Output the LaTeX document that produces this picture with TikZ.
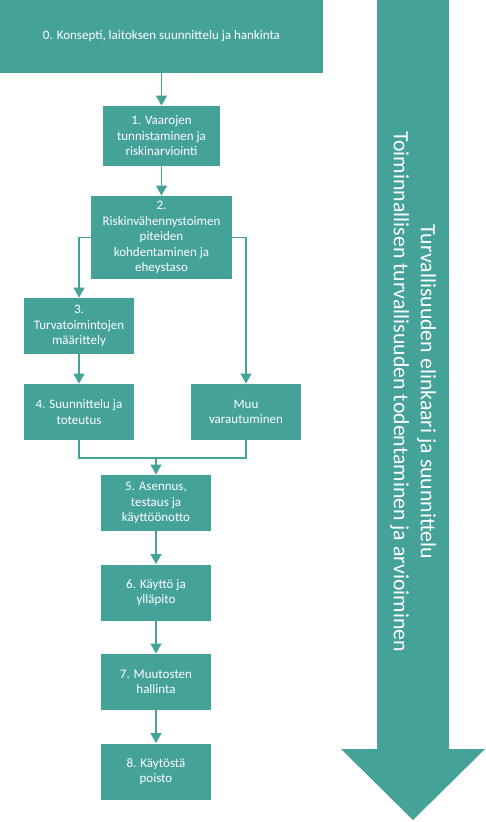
\documentclass[tikz,border=0pt]{standalone}
\usepackage{fontspec}
\setmainfont{Carlito}
\usepackage{xcolor}
\usepackage{tikz}
\usetikzlibrary{arrows.meta, positioning}

\definecolor{vihrea}{RGB}{68,162,153}

\begin{document}
\begin{tikzpicture}[x=1pt, y=-1pt, node distance=89.5pt, thick,
    vaihe/.style={rectangle, fill=vihrea, text=white, inner sep=0pt, align=center,
        font=\fontsize{13}{15.5}\selectfont, minimum width=110pt, minimum height=56pt},
    nuoli/.style={draw=vihrea, line width=1.3pt, -{Triangle[width=11pt, length=10pt]}},
    viiva/.style={draw=vihrea, line width=1.3pt}]
    \useasboundingbox (0,0) rectangle (486,822);
    % Big arrow
    \fill[vihrea] (377,0) -- (449,0) -- (449,749) -- (485,749) -- (413,820) -- (341,749) -- (377,749) -- cycle;
    \node (elinkaari) [rotate=-90, text=white, align=center, font=\fontsize{21.8}{27}\selectfont] at (413,392)
        {Turvallisuuden elinkaari ja suunnittelu\\Toiminnallisen turvallisuuden todentaminen ja arvioiminen};
    % Nodes
    \node (konsepti) [vaihe, minimum width=323pt, minimum height=73pt] at (161.5,36.5) {0. Konsepti, laitoksen suunnittelu ja hankinta};
    \node (vaarat) [vaihe, minimum width=117pt, minimum height=60pt] at (161.5,136) {1. Vaarojen\\tunnistaminen ja\\riskinarviointi};
    \node (kohdennus) [vaihe, minimum width=141pt, minimum height=83pt] at (161.5,237.5) {2.\\Riskinvähennystoimen\\piteiden\\kohdentaminen ja\\eheystaso};
    \node (maarittely) [vaihe] at (79,326) {3.\\Turvatoimintojen\\määrittely};
    \node (toteutus) [vaihe] at (79,412) {4. Suunnittelu ja\\toteutus};
    \node (muu) [vaihe] at (246,412) {Muu\\varautuminen};
    \node (asennus) [vaihe] at (156,503) {5. Asennus,\\testaus ja\\käyttöönotto};
    \node (kaytto) [vaihe, below of=asennus] {6. Käyttö ja\\ylläpito};
    \node (muutokset) [vaihe, below of=kaytto] {7. Muutosten\\hallinta};
    \node (poisto) [vaihe, below of=muutokset] {8. Käytöstä\\poisto};
    \coordinate (yhdistys) at (156,458);
    % Arrows
    \draw[nuoli] (konsepti) -- (vaarat);
    \draw[nuoli] (vaarat) -- (kohdennus);
    \draw[nuoli] (kohdennus.west) -| (maarittely.north);
    \draw[nuoli] (kohdennus.east) -| (muu.north);
    \draw[nuoli] (maarittely) -- (toteutus);
    \draw[viiva] (toteutus.south) |- (yhdistys);
    \draw[viiva] (muu.south) |- (yhdistys);
    \draw[nuoli] (yhdistys) -- (asennus.north);
    \draw[nuoli] (asennus) -- (kaytto);
    \draw[nuoli] (kaytto) -- (muutokset);
    \draw[nuoli] (muutokset) -- (poisto);
\end{tikzpicture}
\end{document}
